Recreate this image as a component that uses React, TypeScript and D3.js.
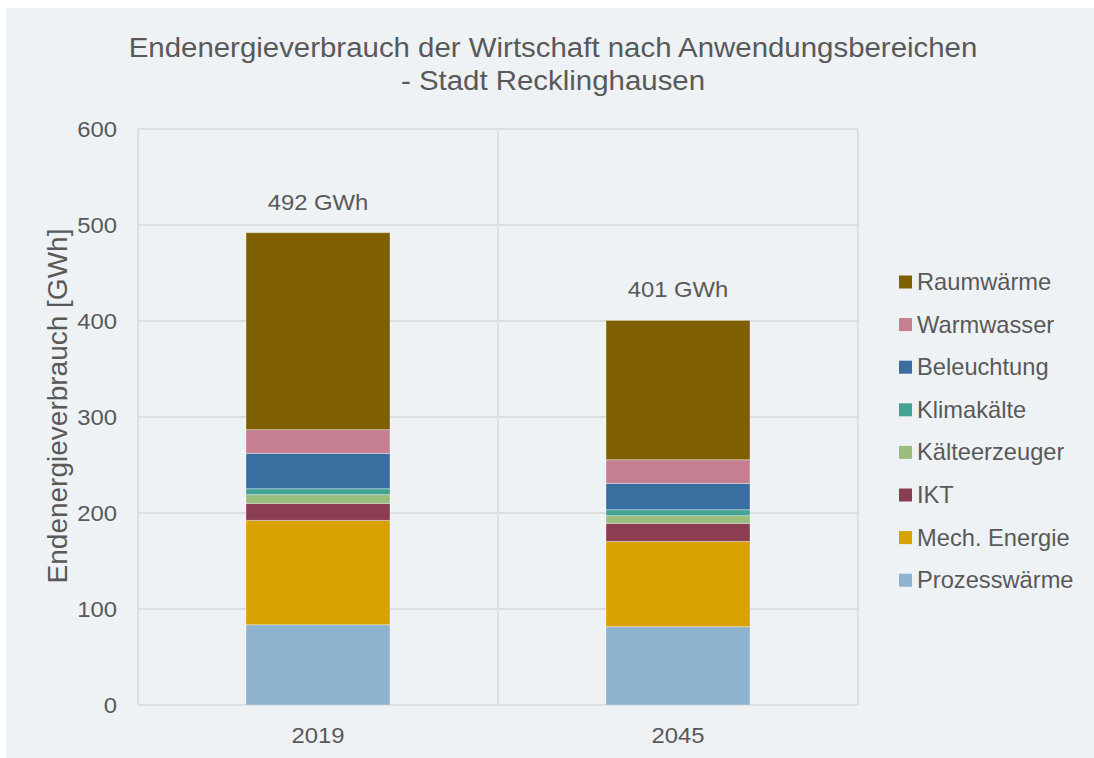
import React from "react";
import * as d3 from "d3";

const years = ["2019", "2045"];
const seriesNames = [
  "Prozesswärme",
  "Mech. Energie",
  "IKT",
  "Kälteerzeuger",
  "Klimakälte",
  "Beleuchtung",
  "Warmwasser",
  "Raumwärme",
];
const seriesColors = [
  "#8db3cf",
  "#d8a300",
  "#8b3e52",
  "#98bd7d",
  "#44a393",
  "#3a6da0",
  "#c57f91",
  "#7f6000",
];
const values2019 = [83.6, 108.7, 17.7, 9.1, 6.2, 36.8, 24.7, 205.2];
const values2045 = [81.6, 88.8, 18.8, 8.0, 6.2, 27.4, 24.7, 145.1];
const totalLabels = ["492 GWh", "401 GWh"];
const yTicks = [0, 100, 200, 300, 400, 500, 600];

const W = 1094;
const H = 758;
const plot = { left: 138, right: 858, top: 129, bottom: 705 };
const FONT = "'Liberation Sans', Arial, sans-serif";
const textColor = "#595959";

function T(props: {
  x: number;
  y: number;
  size: number;
  sx?: number;
  anchor?: "start" | "middle" | "end";
  children: React.ReactNode;
}) {
  const sx = props.sx ?? 1.06;
  return (
    <text
      transform={`translate(${props.x},${props.y}) scale(${sx},1)`}
      textAnchor={props.anchor ?? "start"}
      fontSize={props.size}
      fill={textColor}
    >
      {props.children}
    </text>
  );
}

export default function App() {
  const table = years.map((y, i) => {
    const vals = i === 0 ? values2019 : values2045;
    const row: Record<string, any> = { year: y };
    seriesNames.forEach((n, k) => (row[n] = vals[k]));
    return row;
  });
  const stacked = d3.stack<any>().keys(seriesNames)(table);

  const x = d3
    .scaleBand<string>()
    .domain(years)
    .range([plot.left, plot.right])
    .paddingInner(0)
    .paddingOuter(0);
  const y = d3.scaleLinear().domain([0, 600]).range([plot.bottom, plot.top]);
  const barW = x.bandwidth() * 0.4;

  const gridColor = "#dcdee1";

  return (
    <div style={{ position: "fixed", left: 0, top: 0, width: W, height: H, overflow: "hidden" }}>
      <svg width={W} height={H} style={{ display: "block" }} fontFamily={FONT}>
        <rect x={0} y={0} width={W} height={H} fill="#ffffff" />
        <rect x={6} y={8} width={W} height={H} fill="#eef2f5" />

        {/* title */}
        <T x={553} y={57} size={27.5} sx={1.07} anchor="middle">
          Endenergieverbrauch der Wirtschaft nach Anwendungsbereichen
        </T>
        <T x={553} y={90} size={27.5} sx={1.07} anchor="middle">
          - Stadt Recklinghausen
        </T>

        {/* grid */}
        {yTicks.map((t) => (
          <line
            key={t}
            x1={plot.left}
            x2={plot.right}
            y1={y(t)}
            y2={y(t)}
            stroke={gridColor}
            strokeWidth={2}
          />
        ))}
        {[plot.left, x("2045") as number, plot.right].map((xv, i) => (
          <line
            key={i}
            x1={xv}
            x2={xv}
            y1={plot.top}
            y2={plot.bottom}
            stroke={gridColor}
            strokeWidth={2}
          />
        ))}

        {/* y ticks */}
        {yTicks.map((t) => (
          <T key={t} x={117} y={y(t) + 8} size={22.5} anchor="end">
            {t}
          </T>
        ))}

        {/* y axis title */}
        <text
          transform={`translate(67, 406) rotate(-90)`}
          textAnchor="middle"
          fontSize={28}
          fill={textColor}
        >
          Endenergieverbrauch [GWh]
        </text>

        {/* bars */}
        {stacked.map((s, k) => (
          <g key={s.key} fill={seriesColors[k]}>
            {s.map((d, i) => {
              const cx = (x(years[i]) as number) + x.bandwidth() / 2;
              return (
                <rect
                  key={i}
                  x={cx - barW / 2}
                  width={barW}
                  y={y(d[1])}
                  height={y(d[0]) - y(d[1])}
                  stroke="rgba(255,255,255,0.35)"
                  strokeWidth={1}
                />
              );
            })}
          </g>
        ))}

        {/* totals */}
        {years.map((yr, i) => {
          const top = stacked[stacked.length - 1][i][1];
          const cx = (x(yr) as number) + x.bandwidth() / 2;
          return (
            <T key={yr} x={cx} y={y(top) - 23} size={22.5} anchor="middle">
              {totalLabels[i]}
            </T>
          );
        })}

        {/* x labels */}
        {years.map((yr) => (
          <T
            key={yr}
            x={(x(yr) as number) + x.bandwidth() / 2}
            y={743}
            size={22.5}
            anchor="middle"
          >
            {yr}
          </T>
        ))}

        {/* legend */}
        {seriesNames
          .slice()
          .reverse()
          .map((n, j) => {
            const k = seriesNames.length - 1 - j;
            const cy = 282 + j * 42.6;
            return (
              <g key={n}>
                <rect x={899} y={cy - 6.5} width={13} height={13} fill={seriesColors[k]} />
                <T x={917} y={cy + 8} size={23} sx={1.03}>
                  {n}
                </T>
              </g>
            );
          })}
      </svg>
    </div>
  );
}
